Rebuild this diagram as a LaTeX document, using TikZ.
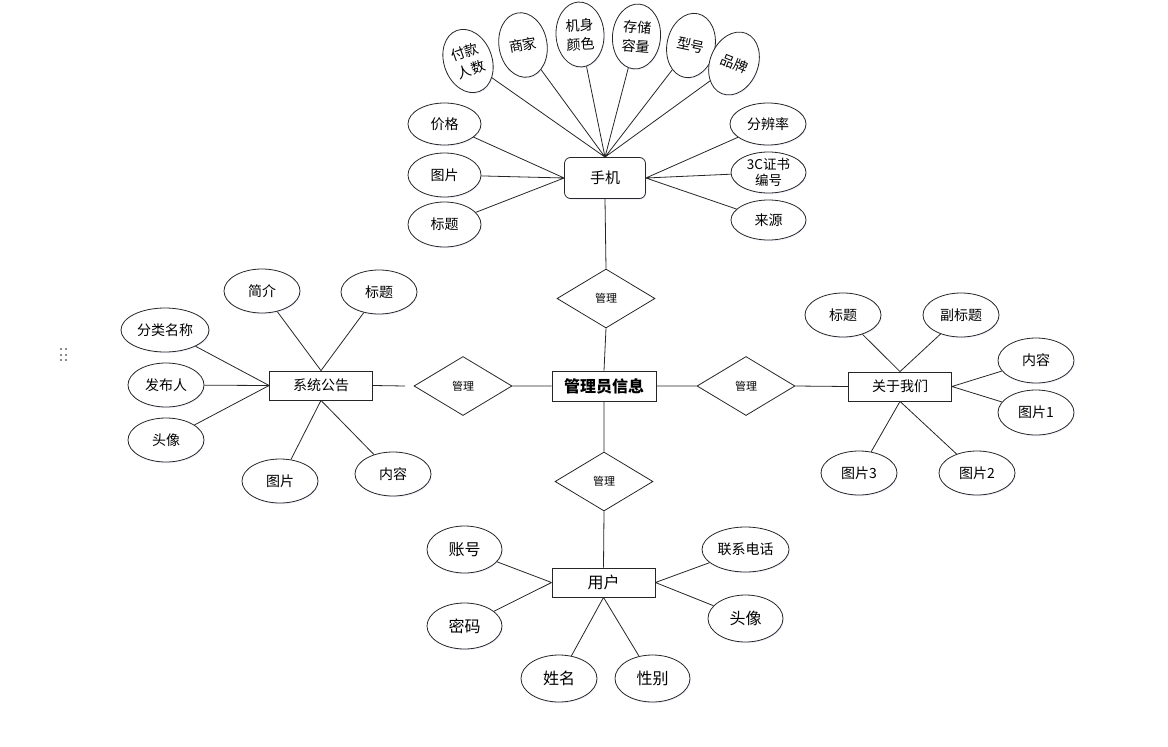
\documentclass[tikz,border=0pt]{standalone}
\usepackage{fontspec}
\setmainfont{Noto Sans CJK SC}
\usetikzlibrary{shapes.geometric,shadows}
\tikzset{
  shd/.style={drop shadow={shadow xshift=0.9pt,shadow yshift=-1.3pt,fill=blue!35,opacity=0.14}},
  attr/.style={ellipse,draw=black!85,line width=0.8pt,fill=white,inner sep=0pt,align=center,
    minimum width=76pt,minimum height=44pt,font=\fontsize{14}{15}\selectfont,shd},
  fan/.style={attr,minimum width=48pt,minimum height=65pt,font=\fontsize{14}{19}\selectfont},
  ent/.style={rectangle,draw=black!85,line width=0.8pt,fill=white,inner sep=0pt,
    minimum width=103pt,minimum height=29pt,font=\fontsize{14}{16}\selectfont,shd},
  rel/.style={diamond,draw=black!85,line width=0.8pt,fill=white,inner sep=0pt,
    minimum width=98pt,minimum height=59pt,font=\fontsize{11}{12}\selectfont},
  conn/.style={draw=black!85,line width=0.8pt},
  grip/.style={fill=black!45,draw=none},
}
\begin{document}
\begin{tikzpicture}[x=1pt,y=-1pt]
\useasboundingbox (0,0) rectangle (1168,747);

% grip icon
\foreach \gx in {60,65}
  \foreach \gy in {348,353.5,359}
    \fill[grip] (\gx,\gy) rectangle +(2.2,2.2);

% central entity and relations
\node[ent,minimum width=104pt,minimum height=30pt,font=\fontsize{16}{18}\selectfont\bfseries] (admin) at (604,386) {管理员信息};
\node[ent,rounded corners=6pt,minimum width=81pt,minimum height=41pt,font=\fontsize{15}{17}\selectfont] (phone) at (605,178) {手机};
\node[ent] (notice) at (321,385.5) {系统公告};
\node[ent] (about) at (900,386.5) {关于我们};
\node[ent,font=\fontsize{16}{18}\selectfont] (user) at (603.5,582.5) {用户};

\node[rel] (dtop) at (606,298.5) {管理};
\node[rel] (dleft) at (463,386) {管理};
\node[rel] (dright) at (746,386) {管理};
\node[rel] (dbot) at (604,481.5) {管理};

\coordinate (gapL) at (405,386);

% phone attributes
\node[fan,rotate=20] (fk) at (468,61) {付款\\人数};
\node[fan,rotate=10] (sj) at (523,45) {商家};
\node[fan,rotate=3] (js) at (580,34.5) {机身\\颜色};
\node[fan,rotate=-5] (cc) at (636.5,36.5) {存储\\容量};
\node[fan,rotate=-12] (xh) at (691,45.5) {型号};
\node[fan,rotate=-22] (pp) at (734,63.5) {品牌};
\node[attr,minimum width=73pt,minimum height=42pt] (jg) at (444.5,124) {价格};
\node[attr,minimum width=73pt] (tp0) at (444.5,175) {图片};
\node[attr,minimum width=73pt,minimum height=45pt] (bt0) at (444.5,224.5) {标题};
\node[attr,minimum height=42pt] (fbl) at (768,124) {分辨率};
\node[attr,minimum width=75pt,minimum height=41pt,font=\fontsize{13.5}{16.5}\selectfont] (zs) at (768.5,172.5) {3C证书\\编号};
\node[attr,minimum width=75pt,minimum height=40pt] (ly) at (768.5,220) {来源};

% notice attributes
\node[attr] (jj) at (262,291) {简介};
\node[attr] (bt1) at (379,292) {标题};
\node[attr,minimum width=88pt] (fl) at (165,330) {分类名称};
\node[attr] (fbr) at (166,385) {发布人};
\node[attr] (tx1) at (166,440) {头像};
\node[attr] (tp1) at (280,481) {图片};
\node[attr] (nr1) at (393,474) {内容};

% about attributes
\node[attr] (bt2) at (843,315) {标题};
\node[attr] (fbt) at (961,315) {副标题};
\node[attr,minimum height=45pt] (nr2) at (1036,360.5) {内容};
\node[attr,minimum height=45pt] (tpa) at (1036,412.5) {图片1};
\node[attr] (tpc) at (859,473) {图片3};
\node[attr] (tpb) at (977,473) {图片2};

% user attributes
\node[attr,minimum width=75pt,minimum height=47pt,font=\fontsize{16}{18}\selectfont] (zh) at (464.5,549.5) {账号};
\node[attr,minimum width=75pt,minimum height=46pt,font=\fontsize{16}{18}\selectfont] (mm) at (464.5,626) {密码};
\node[attr,minimum height=47pt,font=\fontsize{16}{18}\selectfont] (xm) at (559,678.5) {姓名};
\node[attr,minimum width=75pt,minimum height=47pt,font=\fontsize{16}{18}\selectfont] (xb) at (652.5,678.5) {性别};
\node[attr,minimum width=87pt,minimum height=45pt] (lx) at (745.5,549.5) {联系电话};
\node[attr,minimum width=75pt,minimum height=47pt,font=\fontsize{16}{18}\selectfont] (tx2) at (745.5,618.5) {头像};

% connectors
\path[conn]
  (phone.south) -- (dtop.north)
  (dtop.south) -- (admin.north)
  (admin.south) -- (dbot.north)
  (dbot.south) -- (user.north)
  (admin.west) -- (dleft.east)
  (notice.east) -- (gapL)
  (admin.east) -- (dright.west)
  (dright.east) -- (about.west)
  % phone
  (fk) -- (phone.north) (sj) -- (phone.north) (js) -- (phone.north)
  (cc) -- (phone.north) (xh) -- (phone.north) (pp) -- (phone.north)
  (jg) -- (phone.west) (tp0) -- (phone.west) (bt0) -- (phone.west)
  (fbl) -- (phone.east) (zs) -- (phone.east) (ly) -- (phone.east)
  % notice
  (jj) -- (notice.north) (bt1) -- (notice.north)
  (fl) -- (notice.west) (fbr) -- (notice.west) (tx1) -- (notice.west)
  (tp1) -- (notice.south) (nr1) -- (notice.south)
  % about
  (bt2) -- (about.north) (fbt) -- (about.north)
  (nr2) -- (about.east) (tpa) -- (about.east)
  (tpc) -- (about.south) (tpb) -- (about.south)
  % user
  (zh) -- (user.west) (mm) -- (user.west)
  (xm) -- (user.south) (xb) -- (user.south)
  (lx) -- (user.east) (tx2) -- (user.east);
\end{tikzpicture}
\end{document}
